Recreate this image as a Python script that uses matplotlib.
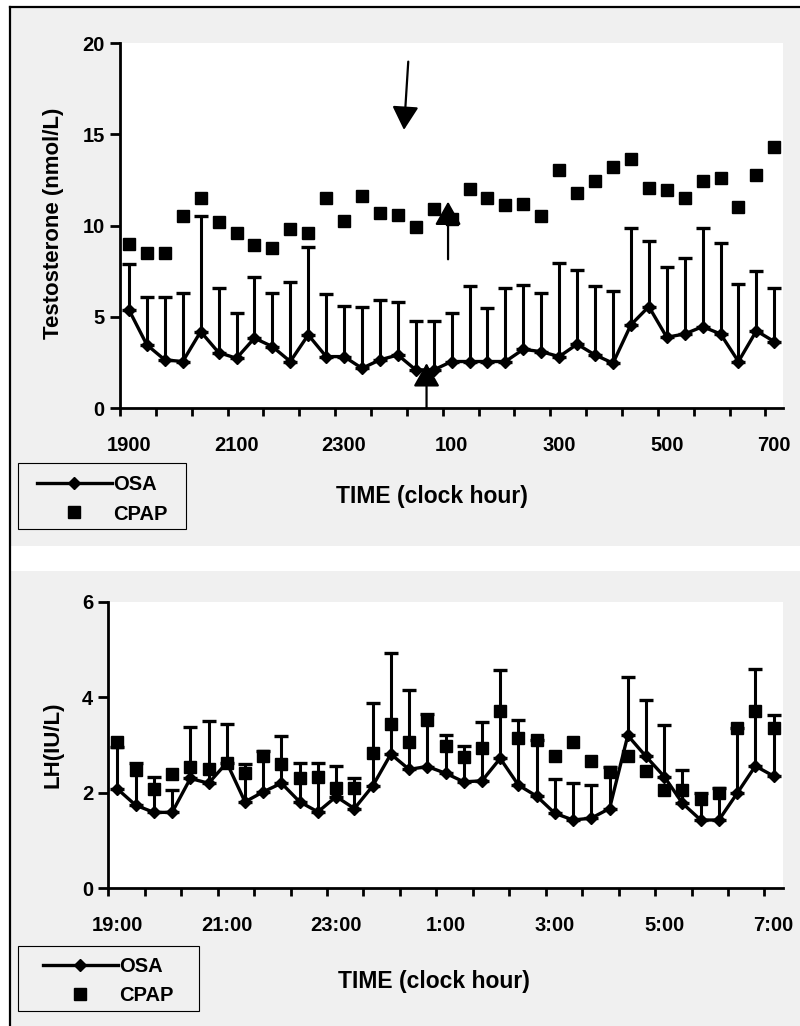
import numpy as np
import matplotlib
matplotlib.use('Agg')
import matplotlib.pyplot as plt
from matplotlib.patches import Rectangle
from matplotlib.lines import Line2D

plt.rcParams['font.family'] = ['Liberation Sans', 'DejaVu Sans']
plt.rcParams['font.weight'] = 'bold'

# 20-min samples from 19:00 to 07:00 (37 points)
labels_top = ['1900', '2100', '2300', '100', '300', '500', '700']
labels_bot = ['19:00', '21:00', '23:00', '1:00', '3:00', '5:00', '7:00']

# testosterone (nmol/L)
osa_testo = [5.39, 3.47, 2.65, 2.56, 4.20, 3.05, 2.74, 3.84, 3.38, 2.56, 4.02, 2.83, 2.83,
             2.19, 2.65, 2.92, 2.10, 2.10, 2.56, 2.56, 2.56, 2.56, 3.23, 3.10, 2.83, 3.51,
             2.92, 2.47, 4.57, 5.57, 3.89, 4.07, 4.47, 4.07, 2.56, 4.24, 3.65]
osa_testo_hi = [7.89, 6.12, 6.12, 6.34, 10.54, 6.61, 5.21, 7.21, 6.30, 6.94, 8.82, 6.25, 5.61,
                5.53, 5.94, 5.84, 4.79, 4.79, 5.24, 6.70, 5.48, 6.58, 6.76, 6.34, 7.98, 7.58,
                6.70, 6.43, 9.90, 9.19, 7.76, 8.22, 9.90, 9.04, 6.81, 7.53, 6.58]
cpap_testo = [8.99, 8.53, 8.53, 10.54, 11.51, 10.19, 9.59, 8.95, 8.77, 9.83, 9.59, 11.51, 10.26,
              11.63, 10.72, 10.59, 9.92, 10.92, 10.35, 12.0, 11.51, 11.14, 11.2, 10.54, 13.06,
              11.82, 12.47, 13.24, 13.66, 12.05, 11.96, 11.54, 12.47, 12.6, 11.05, 12.79, 14.3]

# LH (IU/L)
osa_lh = [2.08, 1.74, 1.59, 1.59, 2.30, 2.20, 2.63, 1.81, 2.02, 2.20, 1.81, 1.60, 1.92,
          1.67, 2.14, 2.81, 2.49, 2.55, 2.41, 2.23, 2.25, 2.72, 2.16, 1.93, 1.57, 1.43,
          1.47, 1.67, 3.20, 2.76, 2.34, 1.78, 1.43, 1.43, 1.99, 2.56, 2.35]
osa_lh_hi = [2.95, 2.62, 2.34, 2.06, 3.38, 3.50, 3.45, 2.60, 2.88, 3.18, 2.63, 2.62, 2.56,
             2.32, 3.89, 4.92, 4.15, 3.66, 3.22, 2.97, 3.49, 4.58, 3.52, 3.10, 2.29, 2.20,
             2.16, 2.55, 4.42, 3.94, 3.41, 2.48, 1.99, 2.11, 3.35, 4.59, 3.63]
cpap_lh = [3.07, 2.48, 2.08, 2.39, 2.55, 2.49, 2.62, 2.41, 2.78, 2.60, 2.32, 2.34, 2.09,
           2.09, 2.83, 3.45, 3.06, 3.52, 2.98, 2.74, 2.94, 3.71, 3.14, 3.11, 2.78, 3.07,
           2.67, 2.44, 2.76, 2.46, 2.06, 2.06, 1.86, 2.00, 3.35, 3.72, 3.35]

# arrows on the testosterone panel: (x_tail, y_tail, x_tip, y_tip) in sample index / nmol/L
arrows_top = [(15.58, 18.99, 15.34, 15.25),
              (17.80, 8.16, 17.80, 11.32),
              (16.60, 0.0, 16.60, 2.47)]

GREY = '#f0f0f0'

fig = plt.figure(figsize=(8, 10.26), dpi=100)
fig.patch.set_facecolor('white')


def fig_rect(x0, y0, x1, y1, **kw):
    # rectangle given in pixel coords (origin top-left)
    W, H = 800.0, 1026.0
    r = Rectangle((x0 / W, 1 - y1 / H), (x1 - x0) / W, (y1 - y0) / H,
                  transform=fig.transFigure, **kw)
    fig.add_artist(r)
    return r


fig_rect(11, 8, 800, 545.7, facecolor=GREY, edgecolor='none', zorder=-2)
fig_rect(11, 570.7, 800, 1026, facecolor=GREY, edgecolor='none', zorder=-2)
fig.add_artist(Line2D([0.0125, 0.0125], [0.0, 0.9932], transform=fig.transFigure,
                      color='black', lw=1.6, zorder=-1))
fig.add_artist(Line2D([0.0125, 1.0], [0.9932, 0.9932], transform=fig.transFigure,
                      color='black', lw=1.6, zorder=-1))


def panel(ax, osa, osa_hi, cpap, ylim, yticks, xlabels):
    x = np.arange(len(osa))
    osa = np.array(osa)
    up = np.array(osa_hi) - osa
    ax.errorbar(x, osa, yerr=[np.zeros_like(up), up], fmt='none', ecolor='black',
                elinewidth=2.2, capsize=5, capthick=2.4, zorder=2)
    ax.plot(x, osa, '-', color='black', lw=2.4, marker='D', ms=6, zorder=3)
    ax.plot(x, cpap, 's', color='black', ms=8.5, zorder=4)
    ax.set_xlim(-0.5, len(osa) - 0.5)
    ax.set_ylim(*ylim)
    ax.set_yticks(yticks)
    ax.set_xticks(np.arange(0, len(osa), 6))
    ax.set_xticklabels(xlabels)
    ax.set_xticks(np.arange(-0.5, len(osa) - 1, 2), minor=True)
    ax.tick_params(axis='x', which='major', length=0, pad=20, labelsize=14.5)
    ax.tick_params(axis='x', which='minor', length=6, width=2, direction='out')
    ax.tick_params(axis='y', length=7, width=2, direction='out', pad=4, labelsize=14.5)
    for lab in ax.get_xticklabels() + ax.get_yticklabels():
        lab.set_fontweight('bold')
    for s in ['top', 'right']:
        ax.spines[s].set_visible(False)
    for s in ['left', 'bottom']:
        ax.spines[s].set_linewidth(2)
    ax.set_facecolor('white')


handles = [Line2D([], [], color='black', lw=2.4, marker='D', ms=6),
           Line2D([], [], color='black', ls='none', marker='s', ms=8.5)]


def legend(ax, x_left, y_mid, box):
    leg = ax.legend(handles, ['OSA', 'CPAP'], loc='center left',
                    bbox_to_anchor=(x_left / 800.0, 1 - y_mid / 1026.0),
                    bbox_transform=fig.transFigure, borderaxespad=0, borderpad=0,
                    frameon=False, handlelength=3.7, handletextpad=0.1,
                    labelspacing=0.5, prop={'size': 14.5, 'weight': 'bold'})
    fig_rect(*box, facecolor='none', edgecolor='black', lw=0.8, zorder=1)
    return leg


# top: testosterone
ax1 = fig.add_axes([0.15, 0.6021, 0.8291, 0.3558])
panel(ax1, osa_testo, osa_testo_hi, cpap_testo, (0, 20), [0, 5, 10, 15, 20], labels_top)
for xt, yt, xh, yh in arrows_top:
    ax1.annotate('', xy=(xh, yh), xytext=(xt, yt),
                 arrowprops=dict(arrowstyle='-|>,head_length=0.48,head_width=0.27',
                                 mutation_scale=30, lw=1.6, color='black',
                                 shrinkA=0, shrinkB=0), zorder=5)
fig.text(0.0663, 0.7827, 'Testosterone (nmol/L)', rotation=90, ha='center', va='center',
         fontsize=16, fontweight='bold')
fig.text(0.54, 0.5156, 'TIME (clock hour)', ha='center', va='center',
         fontsize=16.5, fontweight='bold')
legend(ax1, 37, 499.5, (17.7, 463.3, 185.7, 529))

# bottom: LH
ax2 = fig.add_axes([0.1354, 0.1342, 0.843, 0.2793])
panel(ax2, osa_lh, osa_lh_hi, cpap_lh, (0, 6), [0, 2, 4, 6], labels_bot)
fig.text(0.0663, 0.2739, 'LH(IU/L)', rotation=90, ha='center', va='center',
         fontsize=16, fontweight='bold')
fig.text(0.5425, 0.0432, 'TIME (clock hour)', ha='center', va='center',
         fontsize=16.5, fontweight='bold')
legend(ax2, 43, 981, (18, 945.7, 199, 1011))

fig.savefig('out.png', dpi=100)
